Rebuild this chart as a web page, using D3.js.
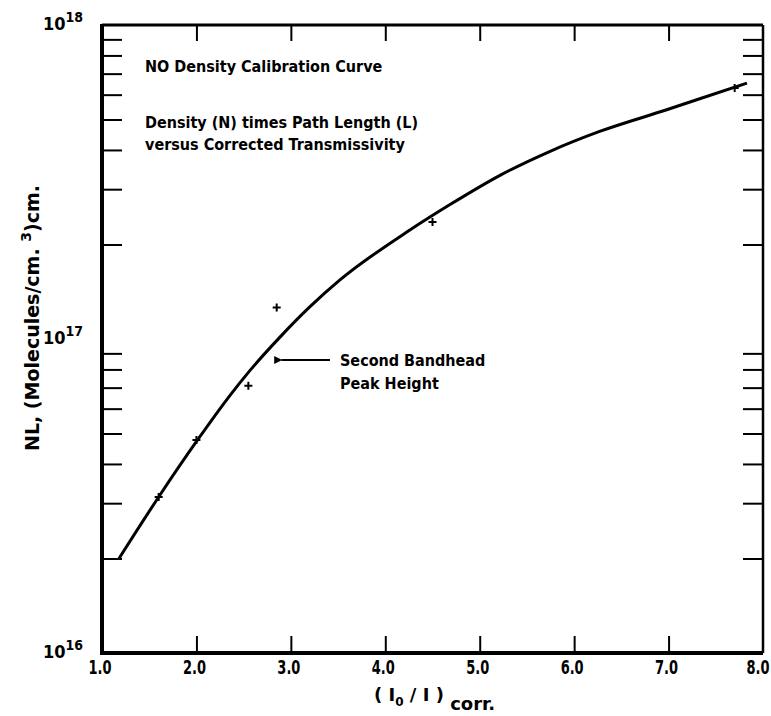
<!DOCTYPE html>
<html>
<head>
<meta charset="utf-8">
<script src="https://cdn.jsdelivr.net/npm/d3@7"></script>
<style>
  body { margin: 0; background: #fff; }
  svg text { font-family: 'DejaVu Sans Condensed', 'Liberation Sans Narrow', sans-serif; font-weight: bold; fill: #000; }
  svg text.title { font-family: 'DejaVu Sans', sans-serif; }
</style>
</head>
<body>
<svg id="chart" width="771" height="716"></svg>
<script>
// measured points (crosses)
let pointX = [1.6, 2.0, 2.55, 2.85, 4.5, 7.7];
let pointY = [3.14e16, 4.77e16, 7.1e16, 1.26e17, 2.36e17, 6.3e17];

// hand drawn calibration curve
let curveX = [1.18, 1.6, 2.01, 2.36, 2.57, 2.885, 3.2, 3.52, 4.26, 4.69, 5.22, 5.74, 6.27, 6.98, 7.33, 7.83];
let curveY = [2.0e16, 3.14e16, 4.76e16, 6.64e16, 7.96e16, 1.014e17, 1.265e17, 1.542e17, 2.223e17, 2.685e17, 3.327e17, 3.954e17, 4.581e17, 5.37e17, 5.821e17, 6.531e17];

let xTicks = [1, 2, 3, 4, 5, 6, 7, 8];
let xTickLabels = ['1.0', '2.0', '3.0', '4.0', '5.0', '6.0', '7.0', '8.0'];
let decades = [16, 17, 18];
let minorMult = [2, 3, 4, 5, 6, 7, 8, 9];

let svg = d3.select('#chart');
let plotLeft = 102, plotRight = 763, plotTop = 25, plotBottom = 653;

let x = d3.scaleLinear().domain([1, 8]).range([plotLeft, plotRight]);
let y = d3.scaleLog().domain([1e16, 1e18]).range([plotBottom, plotTop]);

// minor ticks for the log axis
let yTicks = [];
decades.slice(0, 2).forEach(d => minorMult.forEach(m => yTicks.push(m * Math.pow(10, d))));

let g = svg.append('g');

// left / right ticks pointing inward
g.append('g').attr('transform', `translate(${plotLeft},0)`)
  .call(d3.axisRight(y).tickValues(yTicks).tickSize(20).tickFormat(''))
  .call(a => a.select('.domain').remove())
  .selectAll('line').attr('stroke', '#000').attr('stroke-width', 2);
g.append('g').attr('transform', `translate(${plotRight},0)`)
  .call(d3.axisLeft(y).tickValues(yTicks).tickSize(20).tickFormat(''))
  .call(a => a.select('.domain').remove())
  .selectAll('line').attr('stroke', '#000').attr('stroke-width', 2);

// top / bottom ticks
g.append('g').attr('transform', `translate(0,${plotTop})`)
  .call(d3.axisBottom(x).tickValues(xTicks.slice(1, -1)).tickSize(16).tickFormat(''))
  .call(a => a.select('.domain').remove())
  .selectAll('line').attr('stroke', '#000').attr('stroke-width', 2);
g.append('g').attr('transform', `translate(0,${plotBottom})`)
  .call(d3.axisTop(x).tickValues(xTicks.slice(1, -1)).tickSize(17).tickFormat(''))
  .call(a => a.select('.domain').remove())
  .selectAll('line').attr('stroke', '#000').attr('stroke-width', 2);

// frame
g.append('line').attr('x1', plotLeft).attr('x2', plotLeft).attr('y1', plotTop - 1).attr('y2', plotBottom + 2).attr('stroke', '#000').attr('stroke-width', 4);
g.append('line').attr('x1', plotLeft).attr('x2', plotRight).attr('y1', plotBottom).attr('y2', plotBottom).attr('stroke', '#000').attr('stroke-width', 4);
g.append('line').attr('x1', plotLeft).attr('x2', plotRight).attr('y1', plotTop).attr('y2', plotTop).attr('stroke', '#000').attr('stroke-width', 3);
g.append('line').attr('x1', plotRight).attr('x2', plotRight).attr('y1', plotTop).attr('y2', plotBottom).attr('stroke', '#000').attr('stroke-width', 2.5);

// x tick labels (last one kept inside the page)
g.selectAll('.xlab').data(xTicks).enter().append('text')
  .attr('x', d => Math.min(x(d) - 2, 758)).attr('y', plotBottom + 21)
  .attr('text-anchor', 'middle').style('font-size', '19px')
  .attr('textLength', 23).attr('lengthAdjust', 'spacingAndGlyphs')
  .text((d, i) => xTickLabels[i]);

// y decade labels 10^n
decades.forEach(d => {
  let t = g.append('text').attr('x', 83).attr('y', y(Math.pow(10, d)) + 5)
    .attr('text-anchor', 'end').style('font-size', '18px');
  t.append('tspan').text('10');
  t.append('tspan').attr('dy', -8).style('font-size', '14px').text(d);
});

// axis titles
let xt = g.append('text').attr('class', 'title').attr('x', 374).attr('y', 701).style('font-size', '18px');
xt.append('tspan').text('( I');
xt.append('tspan').attr('dy', 5).style('font-size', '12px').text('0');
xt.append('tspan').attr('dy', -5).text(' / I )');
xt.append('tspan').attr('dy', 9).text(' corr.');

let yt = g.append('text').attr('class', 'title').attr('transform', 'translate(39,318) rotate(-90)')
  .attr('text-anchor', 'middle').style('font-size', '19px');
yt.append('tspan').text('NL,   (Molecules/cm. ');
yt.append('tspan').attr('dy', -8).style('font-size', '14px').text('3');
yt.append('tspan').attr('dy', 8).text(')cm.');

// annotations
let notes = [
  { t: 'NO Density Calibration Curve', x: 145, y: 72 },
  { t: 'Density (N) times Path Length (L)', x: 145, y: 128 },
  { t: 'versus Corrected Transmissivity', x: 145, y: 150 },
  { t: 'Second Bandhead', x: 340, y: 366 },
  { t: 'Peak Height', x: 340, y: 389 }
];
g.selectAll('.note').data(notes).enter().append('text')
  .attr('x', d => d.x).attr('y', d => d.y).style('font-size', '16px').text(d => d.t);

// arrow pointing at the curve
svg.append('defs').append('marker').attr('id', 'ah')
  .attr('viewBox', '0 0 10 10').attr('refX', 1).attr('refY', 5)
  .attr('markerWidth', 5).attr('markerHeight', 4).attr('orient', 'auto-start-reverse')
  .append('path').attr('d', 'M10,0 L0,5 L10,10 Z').attr('fill', '#000');
g.append('line').attr('x1', 330).attr('x2', x(2.9)).attr('y1', 360).attr('y2', 360)
  .attr('stroke', '#000').attr('stroke-width', 2).attr('marker-end', 'url(#ah)');

// curve
let curveData = curveX.map((d, i) => [d, curveY[i]]);
g.append('path').datum(curveData)
  .attr('d', d3.line().x(d => x(d[0])).y(d => y(d[1])).curve(d3.curveMonotoneX))
  .attr('fill', 'none').attr('stroke', '#000').attr('stroke-width', 3);

// crosses
let pts = pointX.map((d, i) => [d, pointY[i]]);
g.selectAll('.pt').data(pts).enter().append('path')
  .attr('transform', d => `translate(${x(d[0])},${y(d[1])})`)
  .attr('d', 'M-4,0H4M0,-4V4').attr('stroke', '#000').attr('stroke-width', 2);
</script>
</body>
</html>
